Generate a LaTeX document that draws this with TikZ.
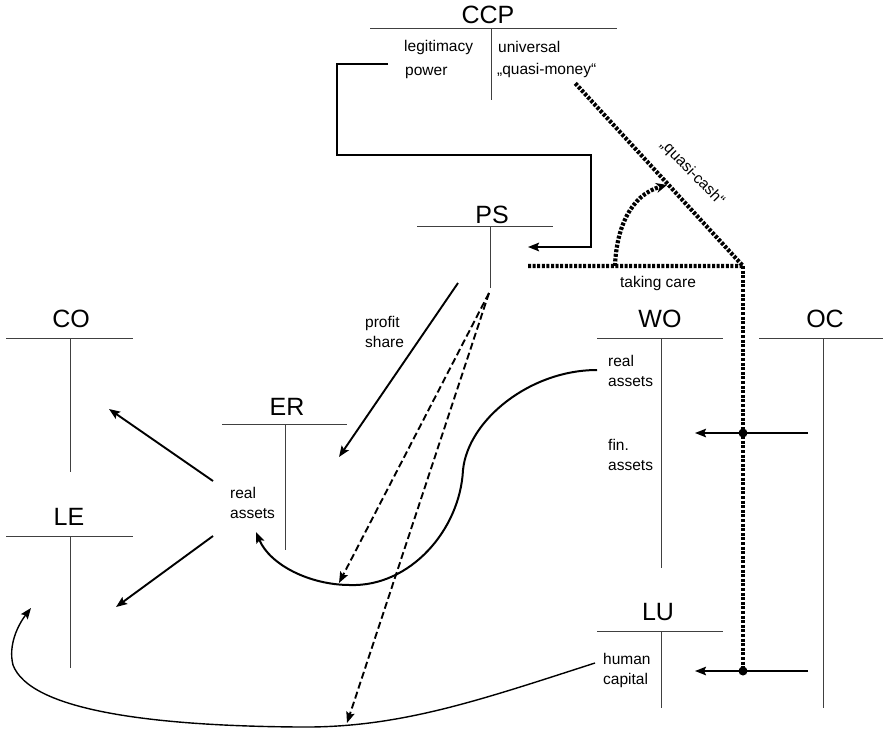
\documentclass[tikz,border=0pt]{standalone}
\usepackage{fontspec}
\setmainfont{Liberation Sans}
\usetikzlibrary{arrows.meta}
\tikzset{acctitle/.style={anchor=base,inner sep=0pt,font=\fontsize{25}{29}\selectfont},
  tline/.style={line width=1pt,black!75},
  lbl/.style={inner sep=0pt,align=left,font=\fontsize{15.5}{20}\selectfont},
  arr/.style={-{Stealth[length=11pt,width=8.5pt,inset=2pt]},line width=1.9pt},
  dashedarr/.style={arr,dash pattern=on 7pt off 3.5pt},
  dots/.style={line width=4.2pt,dash pattern=on 3pt off 1.6pt}}

\begin{document}
\begin{tikzpicture}[x=1pt,y=-1pt]
\useasboundingbox (0,0) rectangle (883,729);
% T-accounts: name/title/title x/baseline/line y/left/right/stem x/stem end
\foreach \n/\t/\tx/\ty/\ly/\xa/\xb/\vx/\vb in {ccp/CCP/488/23/28/370/617/491/100,
  ps/PS/492/223/226/417/553/490/288, co/CO/71/327/338/6/133/70/472,
  le/LE/69/525/536/6/133/70/668, er/ER/287/415/424/222/347/285/550,
  wo/WO/660/327/338/597/723/661/568, oc/OC/825/327/338/759/883/823/708,
  lu/LU/658/620/631/597/723/661/708}{
  \node[acctitle] (\n) at (\tx,\ty) {\t};
  \draw[tline] (\xa,\ly) -- (\xb,\ly) (\vx,\ly) -- (\vx,\vb);
}
% texts
\node[lbl,anchor=west] (legit) at (404,47) {legitimacy};
\node[lbl,anchor=west] (power) at (405,73) {power};
\node[lbl,anchor=west] (univ) at (498,47) {universal};
\node[lbl,anchor=west] (qmoney) at (497,70) {„quasi-money“};
\node[lbl] (care) at (658,283) {taking care};
\node[lbl,anchor=west] (profit) at (365,332) {profit\\share};
\node[lbl,anchor=west] (erreal) at (230,503) {real\\assets};
\node[lbl,anchor=west] (woreal) at (608,371) {real\\assets};
\node[lbl,anchor=west] (wofin) at (608,455) {fin.\\assets};
\node[lbl,anchor=west] (luhum) at (603,670) {human\\capital};
\node[lbl,rotate=-46] (qcash) at (692,173) {„quasi-cash“};
% end points
\coordinate (pw) at (388,64);
\coordinate (brl) at (337,155);
\coordinate (brr) at (591,247);
\coordinate (psin) at (528,247);
\coordinate (qm) at (575,83);
\coordinate (corner) at (743,266);
\coordinate (dl) at (528,266);
\coordinate (arcst) at (615,266);
\coordinate (arctip) at (667,185);
\coordinate (finpt) at (743,433);
\coordinate (humpt) at (743,671);
\coordinate (ocfin) at (808,433);
\coordinate (finin) at (695,433);
\coordinate (ochum) at (808,671);
\coordinate (humin) at (695,671);
\coordinate (psa) at (458,283);
\coordinate (erin) at (339,457);
\coordinate (psb) at (489,293);
\coordinate (sbot) at (339,583);
\coordinate (bbot) at (347,723);
\coordinate (erco) at (213,481);
\coordinate (coin) at (109,409);
\coordinate (erle) at (213,536);
\coordinate (lein) at (116,607);
\coordinate (wora) at (597,370);
\coordinate (erra) at (256,532);
\coordinate (luhc) at (595,663);
\coordinate (leh) at (31,608);
% power bracket
\draw[arr,line width=2.1pt] (pw) -| (brl) -| (brr) -- (psin);
% taking care, quasi-cash
\draw[dots] (dl) -- (corner) -- (qm);
\draw[dots] (corner) -- (humpt);
\draw[dots,-{Stealth[length=11pt,width=10pt]}] (arcst) to[out=88,in=195] (arctip);
\fill (finpt) circle (4.5pt);
\fill (humpt) circle (4.5pt);
\draw[arr] (ocfin) -- (finin);
\draw[arr] (ochum) -- (humin);
% profit share and dashed flows
\draw[arr] (psa) -- (erin);
\draw[dashedarr] (psb) -- (sbot);
\draw[dashedarr] (psb) -- (bbot);
\draw[arr] (erco) -- (coin);
\draw[arr] (erle) -- (lein);
% curves
\draw[arr,line width=2pt] (wora) .. controls (530,370) and (468,420) .. (463,470)
  .. controls (460,530) and (410,587) .. (350,585)
  .. controls (310,585) and (270,565) .. (erra);
\draw[arr,line width=1.4pt] (luhc) .. controls (480,700) and (400,728) .. (300,727)
  .. controls (150,726) and (30,710) .. (13,665)
  .. controls (8,645) and (18,625) .. (leh);
\end{tikzpicture}
\end{document}
